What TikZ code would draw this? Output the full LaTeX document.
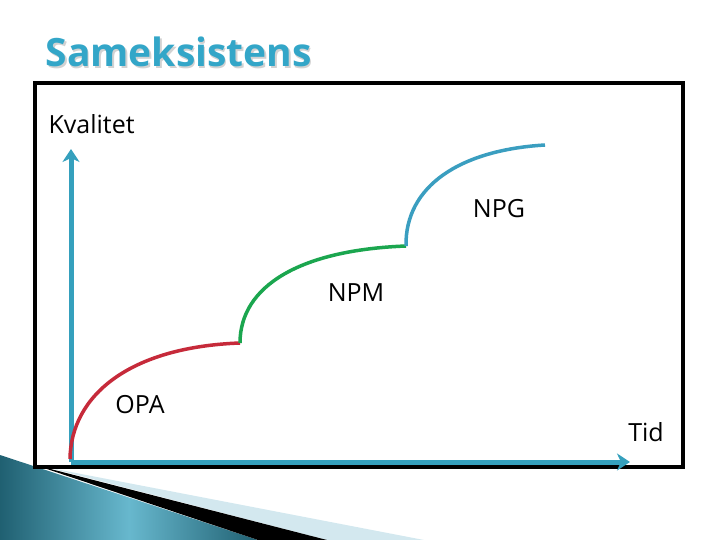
\documentclass[tikz,border=0pt]{standalone}
\usepackage{fontspec}
\setmainfont{Open Sans}
\usepackage{tikz}
\usetikzlibrary{arrows.meta,positioning}
\definecolor{axisblue}{HTML}{35A0BD}
\definecolor{titleblue}{HTML}{33A6C8}
\definecolor{opared}{HTML}{C62A3A}
\definecolor{npmgreen}{HTML}{1BA64F}
\definecolor{npgblue}{HTML}{3A9EC0}
\definecolor{wedgeblue}{HTML}{D3E8EF}
\tikzset{axis line/.style={axisblue,line width=5pt,-{Stealth[length=13pt,width=17pt,inset=4pt]}},
  growth/.style={line width=3.5pt},
  phase label/.style={font=\fontsize{25}{27}\selectfont},
}

\begin{document}
\begin{tikzpicture}[x=1pt,y=-1pt]
  \useasboundingbox (0,0) rectangle (720,540);

  % corner decoration
  \shade[left color=axisblue!60!black,right color=axisblue!60!black,middle color=axisblue!75!white]
    (0,455) -- (258,540) -- (0,540) -- cycle;
  \fill[wedgeblue] (50,468) -- (424,540) -- (327,540) -- cycle;
  \fill[black] (35,465) -- (327,540) -- (258,540) -- cycle;

  % title
  \node[anchor=base west,gray!35,font=\fontsize{39}{43}\selectfont\bfseries] at (43.5,68.5) {Sameksistens};
  \node[anchor=base west,titleblue,font=\fontsize{39}{43}\selectfont\bfseries] (title) at (42,67) {Sameksistens};

  % frame
  \draw[line width=4pt,fill=white] (35,83) rectangle (683,467);

  \coordinate (o) at (71,462);
  \coordinate (ytip) at (71,149);
  \coordinate (xtip) at (630,462);
  \draw[axis line] (o) -- (ytip);
  \draw[axis line] (o) -- (xtip);

  \coordinate (s0) at (70,459);
  \coordinate (s1) at (240,343);
  \coordinate (s2) at (406,246);
  \coordinate (s3) at (545,145);

  \draw[growth,opared] (s0) .. controls (71,395) and (130,347) .. (s1);
  \draw[growth,npmgreen] (s1) .. controls (240,286) and (300,250) .. (s2);
  \draw[growth,npgblue] (s2) .. controls (405,186) and (460,150) .. (s3);

  \node[phase label,anchor=west] (kval) at (45,124) {Kvalitet};
  \node[phase label] (opa) at (140,405) {OPA};
  \node[phase label] (npm) at (356,293) {NPM};
  \node[phase label] (npg) at (499,209) {NPG};
  \node[phase label] (tid) at (646,432) {Tid};
\end{tikzpicture}
\end{document}
